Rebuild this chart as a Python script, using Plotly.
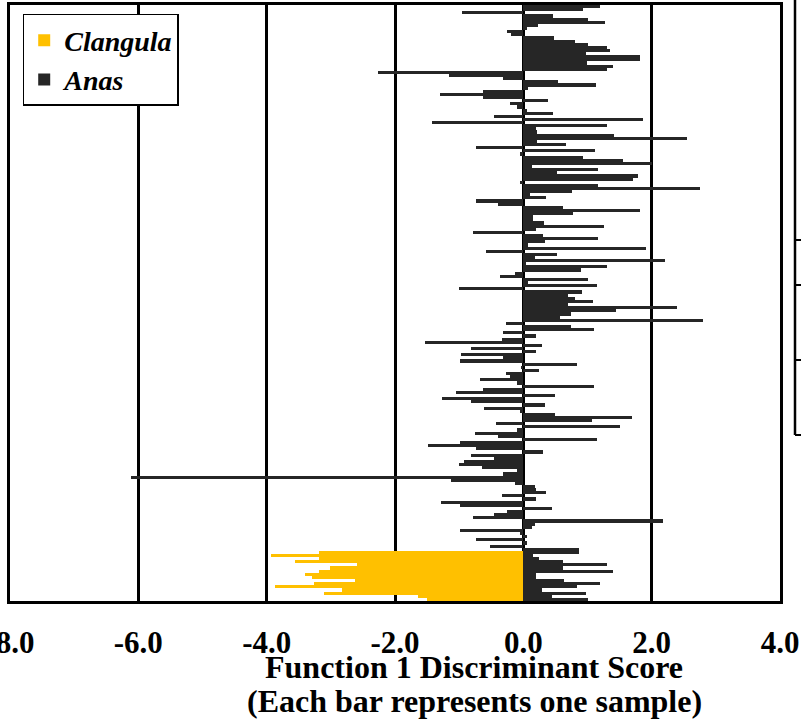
import plotly.graph_objects as go

# Discriminant scores, one bar per sample, listed top to bottom
anas_scores = [
    1.20, 0.93, -0.95, 0.46, 1.00, 1.27, 0.23, 0.05, -0.26, -0.20,
    0.48, 0.80, 1.00, 1.30, 1.35, 0.98, 1.82, 1.82, 0.99, 1.39,
    1.30, -2.26, -1.16, -0.32, 0.54, 1.13, 0.07, -0.63, -1.30, -0.63,
    0.38, -0.21, -0.10, 0.05, 0.46, -0.45, 1.86, -1.42, 1.30, 0.20,
    0.21, 1.41, 2.55, 0.21, 0.66, -0.73,
    1.11, -0.05, 0.93, 1.55, 2.00, 0.13, 1.17, 0.52, 1.78, 1.71,
    -0.05, 1.16, 2.75, 0.76, 0.10, 0.36, -0.73, -0.39, 0.62, 1.82,
    0.77, 0.15, 0.15, 0.32, 1.25, 0.20, -0.79, 0.30, 1.17, 0.33,
    0.07, 1.91, -0.58, 0.52, 0.18, 2.20, 0.04, 1.30, 0.90, -0.13,
    -0.36, 1.00, 0.07, 1.15, -1.00, 0.91, 0.70, 0.80,
    1.08, 0.70, 2.40, 1.44, 0.74, 0.57, 2.80, -0.27, 0.75, 1.10,
    -0.32, 0.20, -0.33, -1.53, 0.29, -0.82, 0.20, -0.97, -0.32, -0.99,
    0.83, -0.04, 0.24, -0.27, -0.21, -0.68, -0.10, 1.10, -0.63, -1.05,
    0.50, -1.26, -0.82, 0.33, -0.61, -0.05, 0.50, 1.69, 1.07, -0.43,
    1.50, -0.10, -0.75, -0.39, 1.15, -0.99, -1.48, -0.73, 0.31,
    -0.82, -0.45, -0.93, -1.01, -0.65, -0.10, -0.32, -6.11, -1.12, -0.13,
    0.18, 0.20, 0.35, -0.33, 0.20, -1.29, -0.99, 0.45, -0.26, -0.45,
    -0.79, 2.17, 0.18, 0.13, -0.99, -0.05, 0.06, -0.73, 0.06, -0.52,
    0.87,
    0.87, 0.15, 0.25, 0.62, 1.30, 0.62, 1.40, 0.20, 0.20, 0.64,
    1.20, 0.83, 0.29, 0.97, 0.45, 1.00,
]

clangula_scores = [
    -3.19, -3.94, -3.19, -3.56, -2.60, -3.01, -3.19, -3.40,
    -3.30, -2.62, -3.27, -3.87, -2.83, -3.10, -1.64, -1.50,
]

tick_values = [-8, -6, -4, -2, 0, 2, 4]
tick_labels = ["-8.0", "-6.0", "-4.0", "-2.0", "0.0", "2.0", "4.0"]

n = len(anas_scores)
rows = list(range(n))
clangula_rows = rows[n - len(clangula_scores):]

FONT = "Liberation Serif, Times New Roman, serif"

fig = go.Figure()
fig.add_trace(go.Bar(
    y=clangula_rows, x=clangula_scores, orientation="h",
    name="<b><i>Clangula</i></b>", marker=dict(color="#FFC000", line=dict(width=0)),
))
fig.add_trace(go.Bar(
    y=rows, x=anas_scores, orientation="h",
    name="<b><i>Anas</i></b>", marker=dict(color="#262626", line=dict(width=0)),
))

fig.update_layout(
    width=801, height=724,
    margin=dict(l=10, r=21, t=5, b=123, autoexpand=False),
    plot_bgcolor="white", paper_bgcolor="white",
    barmode="overlay", bargap=0,
    font=dict(family=FONT, color="black"),
    showlegend=True,
    legend=dict(
        x=0.0165, y=0.985, xanchor="left", yanchor="top",
        bgcolor="white", bordercolor="black", borderwidth=1.5,
        font=dict(family=FONT, size=28, color="black"),
    ),
    xaxis=dict(
        range=[-8, 4], tickvals=tick_values, ticktext=tick_labels,
        showgrid=True, gridcolor="black", gridwidth=3,
        zeroline=False, showline=True, linecolor="black", linewidth=3, mirror=True,
        ticks="", ticklabelstandoff=12, ticklabeloverflow="allow", automargin=False,
        tickfont=dict(family=FONT, size=31, color="black", weight="bold"),
    ),
    yaxis=dict(
        range=[n - 0.5, -0.5], showticklabels=False, showgrid=False,
        zeroline=False, showline=True, linecolor="black", linewidth=3, mirror=True,
        ticks="", automargin=False,
    ),
)

fig.add_annotation(
    text="<b>Function 1 Discriminant Score</b>", xref="paper", yref="paper",
    x=0.6026, y=-0.111, xanchor="center", yanchor="middle", showarrow=False,
    font=dict(family=FONT, size=32, color="black"),
)
fig.add_annotation(
    text="<b>(Each bar represents one sample)</b>", xref="paper", yref="paper",
    x=0.6026, y=-0.168, xanchor="center", yanchor="middle", showarrow=False,
    font=dict(family=FONT, size=32, color="black"),
)

# fragment of an adjacent panel visible at the right edge
def px_x(px):
    return (px - 10) / 770.0

def px_y(py):
    return (601 - py) / 596.0

fig.add_shape(type="line", xref="paper", yref="paper",
              x0=px_x(795), x1=px_x(795), y0=px_y(0), y1=px_y(435),
              line=dict(color="black", width=2.5))
for py in [240, 285, 360, 435]:
    fig.add_shape(type="line", xref="paper", yref="paper",
                  x0=px_x(795), x1=px_x(802), y0=px_y(py), y1=px_y(py),
                  line=dict(color="black", width=2))

fig.write_html("out.html", config={"displayModeBar": False},
               post_script="document.body.style.margin='0';")
